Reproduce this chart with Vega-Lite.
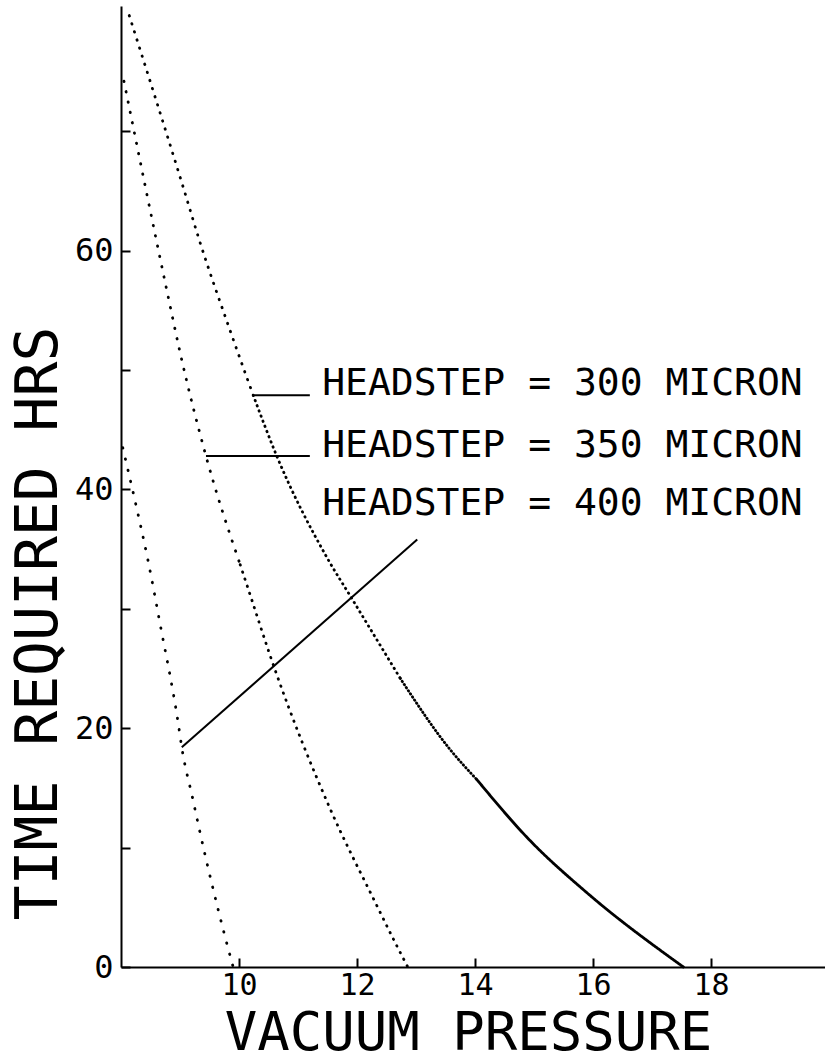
{
  "$schema": "https://vega.github.io/schema/vega-lite/v6.json",
  "autosize": {"type": "none"},
  "padding": {"left": 121, "top": 6, "right": 0, "bottom": 94},
  "width": 704,
  "height": 961,
  "background": "white",
  "config": {
    "view": {"stroke": null},
    "axis": {
      "domainColor": "black", "domainWidth": 2,
      "tickColor": "black", "tickWidth": 2,
      "labelColor": "black", "labelFont": "DejaVu Sans Mono", "labelFontSize": 32,
      "titleColor": "black", "titleFont": "DejaVu Sans Mono", "titleFontWeight": "normal",
      "grid": false
    }
  },
  "datasets": {
    "curves": [
      {"seg": "400", "x": 8.03, "y": 43.5},
      {"seg": "400", "x": 8.24, "y": 39.0},
      {"seg": "400", "x": 8.46, "y": 34.0},
      {"seg": "400", "x": 8.66, "y": 28.8},
      {"seg": "400", "x": 8.97, "y": 20.4},
      {"seg": "400", "x": 9.03, "y": 18.4},
      {"seg": "400", "x": 9.22, "y": 14.0},
      {"seg": "400", "x": 9.32, "y": 11.7},
      {"seg": "400", "x": 9.76, "y": 2.6},
      {"seg": "400", "x": 9.9, "y": 0},
      {"seg": "350a", "x": 8.05, "y": 74.2},
      {"seg": "350a", "x": 8.78, "y": 56.6},
      {"seg": "350a", "x": 9.0, "y": 51.5},
      {"seg": "350a", "x": 9.44, "y": 42.8},
      {"seg": "350a", "x": 10.02, "y": 33.7},
      {"seg": "350b", "x": 10.02, "y": 33.7},
      {"seg": "350b", "x": 10.14, "y": 31.9},
      {"seg": "350b", "x": 10.61, "y": 24.9},
      {"seg": "350b", "x": 11.54, "y": 13.3},
      {"seg": "350b", "x": 12.31, "y": 5.4},
      {"seg": "350b", "x": 12.64, "y": 2.1},
      {"seg": "350b", "x": 12.86, "y": 0},
      {"seg": "300a", "x": 8.14, "y": 79.7},
      {"seg": "300a", "x": 9.08, "y": 64.9},
      {"seg": "300a", "x": 9.32, "y": 61.0},
      {"seg": "300a", "x": 9.85, "y": 53.3},
      {"seg": "300a", "x": 10.24, "y": 47.9},
      {"seg": "300b", "x": 10.24, "y": 47.9},
      {"seg": "300b", "x": 10.64, "y": 42.8},
      {"seg": "300b", "x": 11.49, "y": 34.3},
      {"seg": "300b", "x": 11.92, "y": 30.8},
      {"seg": "300b", "x": 12.73, "y": 24.2},
      {"seg": "300c", "x": 12.73, "y": 24.2},
      {"seg": "300c", "x": 13.58, "y": 18.2},
      {"seg": "300c", "x": 14.03, "y": 15.7},
      {"seg": "300d", "x": 14.03, "y": 15.7},
      {"seg": "300d", "x": 14.93, "y": 10.6},
      {"seg": "300d", "x": 15.9, "y": 6.2},
      {"seg": "300d", "x": 17.53, "y": 0}
    ],
    "legendLines": [
      {"item": "300", "x": 10.24, "y": 47.9},
      {"item": "300", "x": 11.2, "y": 47.9},
      {"item": "350", "x": 9.44, "y": 42.8},
      {"item": "350", "x": 11.2, "y": 42.8},
      {"item": "400", "x": 9.03, "y": 18.4},
      {"item": "400", "x": 13.02, "y": 35.8}
    ],
    "legendText": [
      {"item": "300", "label": "HEADSTEP = 300 MICRON", "x": 11.41, "y": 47.9},
      {"item": "350", "label": "HEADSTEP = 350 MICRON", "x": 11.41, "y": 42.75},
      {"item": "400", "label": "HEADSTEP = 400 MICRON", "x": 11.41, "y": 37.9}
    ]
  },
  "layer": [
    {
      "data": {"name": "curves"},
      "mark": {"type": "line", "color": "black", "strokeWidth": 2.8, "strokeCap": "round", "interpolate": "monotone"},
      "encoding": {
        "x": {
          "field": "x", "type": "quantitative",
          "scale": {"domain": [8, 19.93], "nice": false, "zero": false},
          "axis": {
            "values": [10, 12, 14, 16, 18], "format": "d",
            "tickSize": -9, "labelPadding": 12, "labelFontSize": 30,
            "title": "VACUUM PRESSURE", "titleFontSize": 54,
            "titleX": 347, "titleY": 82, "titleAlign": "center", "titleBaseline": "alphabetic"
          }
        },
        "y": {
          "field": "y", "type": "quantitative",
          "scale": {"domain": [0, 80.5], "nice": false},
          "axis": {
            "values": [0, 10, 20, 30, 40, 50, 60, 70], "format": "d",
            "labelExpr": "datum.value % 20 === 0 ? datum.label : ''",
            "tickSize": -9, "labelPadding": 17,
            "title": "TIME REQUIRED HRS", "titleFontSize": 58,
            "titleX": -65, "titleY": 617, "titleAlign": "center", "titleBaseline": "alphabetic"
          }
        },
        "detail": {"field": "seg"},
        "strokeDash": {
          "field": "seg", "type": "nominal", "legend": null,
          "scale": {
            "domain": ["400", "350a", "350b", "300a", "300b", "300c", "300d"],
            "range": [[0.5, 11], [0.5, 10], [0.5, 7], [0.5, 8], [0.5, 5], [0.5, 3.2], [1, 0]]
          }
        }
      }
    },
    {
      "data": {"name": "legendLines"},
      "mark": {"type": "line", "color": "black", "strokeWidth": 2},
      "encoding": {
        "x": {"field": "x", "type": "quantitative"},
        "y": {"field": "y", "type": "quantitative"},
        "detail": {"field": "item"}
      }
    },
    {
      "data": {"name": "legendText"},
      "mark": {"type": "text", "color": "black", "font": "DejaVu Sans Mono", "fontSize": 38, "align": "left", "baseline": "alphabetic"},
      "encoding": {
        "x": {"field": "x", "type": "quantitative"},
        "y": {"field": "y", "type": "quantitative"},
        "text": {"field": "label"}
      }
    },
    {
      "mark": {"type": "rule", "color": "black", "strokeWidth": 2},
      "encoding": {"y": {"datum": 80.5}}
    }
  ]
}
